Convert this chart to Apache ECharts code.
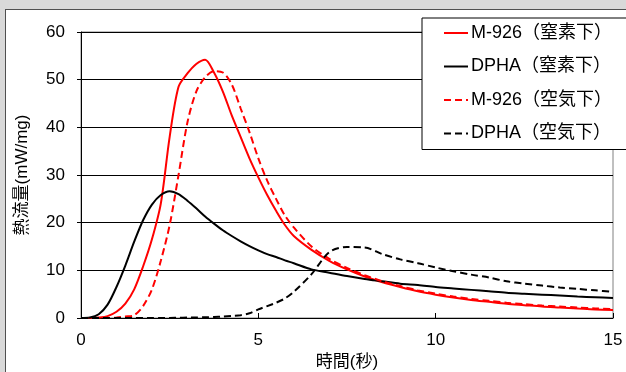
<!DOCTYPE html>
<html>
<head>
<meta charset="utf-8">
<script src="https://cdn.jsdelivr.net/npm/echarts@6/dist/echarts.min.js"></script>
<style>
  html, body { margin: 0; padding: 0; background: #d9d9d9; overflow: hidden; }
  #panel { position: absolute; left: 5px; top: 9px; width: 700px; height: 500px;
           background: #fff; border-left: 1px solid #505050; border-top: 1px solid #505050; }
  #chart { position: absolute; left: 0; top: 0; width: 626px; height: 372px; }
</style>
</head>
<body>
<div id="panel"></div>
<div id="chart"></div>
<script>
// time (s)
const times = [0, 0.25, 0.5, 0.75, 1, 1.25, 1.5, 1.75, 2, 2.25, 2.5, 2.75, 3, 3.25, 3.5, 3.75,
  4, 4.25, 4.5, 4.75, 5, 5.25, 5.5, 5.75, 6, 6.5, 7, 7.5, 8, 8.5, 9, 9.5, 10, 10.5,
  11, 11.5, 12, 12.5, 13, 13.5, 14, 14.5, 15];

// heat flow (mW/mg)
const m926N2 = [0, 0, 0.1, 0.4, 1.3, 3.0, 6.0, 10.8, 16.5, 24, 38, 48.5, 51.3, 53.3, 54.2, 51.5,
  47.5, 42.5, 38, 33.5, 29.5, 25.8, 22.5, 19.5, 17.2, 14.3, 12, 10.2, 8.7, 7.5, 6.5, 5.6, 4.9, 4.3,
  3.8, 3.4, 3.0, 2.7, 2.4, 2.2, 2.0, 1.8, 1.7];
const dphaN2 = [0, 0.1, 0.8, 2.8, 6.5, 11, 16, 20.5, 23.8, 25.8, 26.6, 26, 24.6, 23, 21.3, 19.8,
  18.4, 17.2, 16.1, 15.1, 14.2, 13.4, 12.8, 12.1, 11.5, 10.2, 9.5, 8.8, 8.2, 7.7, 7.2, 6.9, 6.5, 6.2,
  5.9, 5.6, 5.3, 5.1, 4.9, 4.7, 4.5, 4.35, 4.2];
const m926Air = [0, 0, 0, 0, 0.1, 0.3, 0.6, 2.5, 6.0, 12, 19.5, 30, 41, 47.5, 50.5, 51.8,
  51.5, 49, 44, 39, 33.5, 28.8, 25, 21.5, 19, 15, 12.4, 10.5, 9.0, 7.7, 6.7, 5.8, 5.1, 4.5,
  4.0, 3.6, 3.2, 2.9, 2.6, 2.4, 2.2, 2.0, 1.9];
const dphaAir = [0, 0, 0, 0, 0, 0, 0, 0, 0, 0, 0, 0.05, 0.08, 0.1, 0.15, 0.2,
  0.3, 0.45, 0.6, 1.0, 1.8, 2.5, 3.2, 4.1, 5.5, 9.2, 13.8, 14.9, 14.8, 13.4, 12.3, 11.5, 10.6, 9.8,
  9.1, 8.5, 7.7, 7.2, 6.8, 6.4, 6.1, 5.8, 5.5];

const seriesNames = ['M-926（窒素下）', 'DPHA（窒素下）', 'M-926（空気下）', 'DPHA（空気下）'];
const xTicks = { min: 0, max: 15, interval: 5 };
const yTicks = { min: 0, max: 60, interval: 10 };

const font = "'Liberation Sans', 'Noto Sans CJK JP', sans-serif";
const pairs = vals => times.map((t, i) => [t, vals[i]]);

function lineSeries(name, vals, color, dashed) {
  return {
    name: name,
    type: 'line',
    data: pairs(vals),
    symbol: 'none',
    smooth: 0.3,
    lineStyle: { color: color, width: 2, type: dashed ? [7, 4] : 'solid' },
    itemStyle: { color: color }
  };
}

const chart = echarts.init(document.getElementById('chart'));
chart.setOption({
  animation: false,
  textStyle: { fontFamily: font },
  grid: {
    left: 81, right: 13, top: 32, bottom: 54,
    outerBoundsMode: 'none',
    containLabel: false,
    show: true, borderColor: '#808080', borderWidth: 1, backgroundColor: '#fff'
  },
  legend: {
    orient: 'vertical',
    left: 422, top: 18,
    padding: [6, 20, 7, 21],
    itemGap: 15.5,
    itemWidth: 24, itemHeight: 14,
    itemStyle: { opacity: 0 },
    backgroundColor: '#fff',
    borderColor: '#000', borderWidth: 1,
    textStyle: { fontSize: 18, lineHeight: 18, color: '#000', fontFamily: font, padding: [0, 0, 0, -2] },
    data: seriesNames
  },
  xAxis: {
    type: 'value',
    min: xTicks.min, max: xTicks.max, interval: xTicks.interval,
    name: '時間(秒)',
    nameLocation: 'middle',
    nameGap: 34,
    nameTextStyle: { fontSize: 17, color: '#000' },
    axisLine: { lineStyle: { color: '#000', width: 1 } },
    axisTick: { inside: true, length: 5, lineStyle: { color: '#000' } },
    axisLabel: { fontSize: 17, color: '#000', margin: 14 },
    splitLine: { show: false }
  },
  yAxis: {
    type: 'value',
    min: yTicks.min, max: yTicks.max, interval: yTicks.interval,
    name: '熱流量(mW/mg)',
    nameLocation: 'middle',
    nameRotate: 90,
    nameGap: 50,
    nameTextStyle: { fontSize: 17, color: '#000' },
    axisLine: { show: true, lineStyle: { color: '#000', width: 1 } },
    axisTick: { show: true, length: 4, lineStyle: { color: '#000' } },
    axisLabel: { fontSize: 17, color: '#000', margin: 16 },
    splitLine: { show: true, lineStyle: { color: '#000', width: 1 } }
  },
  series: [
    lineSeries(seriesNames[0], m926N2, '#ff0000', false),
    lineSeries(seriesNames[1], dphaN2, '#000000', false),
    lineSeries(seriesNames[2], m926Air, '#ff0000', true),
    lineSeries(seriesNames[3], dphaAir, '#000000', true)
  ]
});
</script>
</body>
</html>
